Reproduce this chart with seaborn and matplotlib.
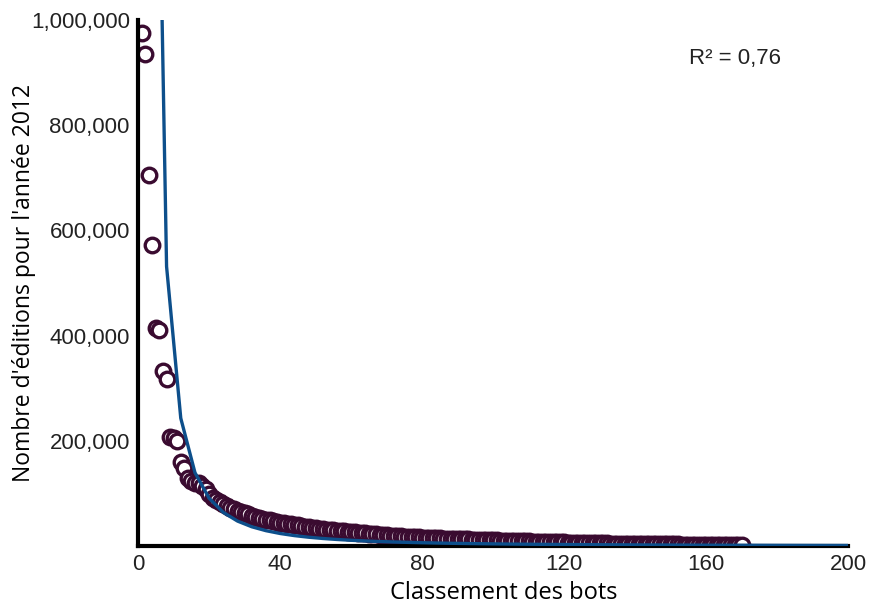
import numpy as np
import pandas as pd
import matplotlib
matplotlib.use("Agg")
import matplotlib.pyplot as plt
import seaborn as sns
from matplotlib.ticker import FuncFormatter

# Edits per bot in 2012, ordered by rank (1 = most active bot)
edits = [
    975000, 935000, 705000, 573000, 415000, 410000, 333000, 318000, 208000, 205000,
    199000, 160000, 148000, 130000, 124000, 120000, 119000, 115000, 108000, 99000,
    92000, 88000, 84000, 80000, 76000, 73000, 70000, 67000, 64000, 62000,
    60000, 58000, 56000, 54000, 52000, 50000, 49000, 47000, 46000, 44000,
    43000, 42000, 41000, 40000, 39000, 38000, 37000, 36000, 35000, 34000,
    33000, 32000, 31000, 30500, 30000, 29000, 28500, 28000, 27000, 26500,
    26000, 25000, 24500, 24000, 23000, 22500, 22000, 21000, 20500, 20000,
    19500, 19000, 19000, 18500, 18000, 17500, 17000, 17000, 16500, 16000,
    16000, 15500, 15000, 15000, 14500, 14000, 14000, 13500, 13500, 13000,
    13000, 12500, 12500, 12000, 12000, 11500, 11500, 11000, 11000, 10500,
    10500, 10000, 10000, 9800, 9600, 9400, 9200, 9000, 8800, 8600,
    8400, 8200, 8000, 7800, 7600, 7400, 7200, 7000, 6900, 6800,
    6600, 6400, 6200, 6000, 5900, 5800, 5600, 5400, 5200, 5000,
    4900, 4800, 4700, 4600, 4500, 4400, 4300, 4200, 4100, 4000,
    3900, 3800, 3700, 3600, 3500, 3400, 3300, 3200, 3100, 3000,
    2950, 2900, 2850, 2800, 2700, 2600, 2500, 2400, 2300, 2200,
    2100, 2000, 1900, 1800, 1700, 1600, 1500, 1400, 1300, 1200,
]
ranks = list(range(1, len(edits) + 1))

# Power-law trend y = A * x^-B, evaluated every 4 ranks
FIT_A = 2.94e7
FIT_B = 1.93
fit_x = np.arange(4, 201, 4)
fit_y = FIT_A * fit_x ** (-FIT_B)
r2_label = "R² = 0,76"

x_ticks = [0, 40, 80, 120, 160, 200]
y_ticks = [0, 200000, 400000, 600000, 800000, 1000000]

pts = pd.DataFrame({"rang": ranks, "editions": edits})
trend = pd.DataFrame({"rang": fit_x, "editions": fit_y})

sns.set_style("white")
plt.rcParams["font.family"] = ["Liberation Sans", "DejaVu Sans"]

fig = plt.figure(figsize=(8.69, 6.04), dpi=100)
ax = fig.add_axes([0.159, 0.096, 0.817, 0.871])

sns.scatterplot(data=pts, x="rang", y="editions", ax=ax, marker="o", s=110,
                facecolor="white", edgecolor="#3a0b30", linewidth=2.4, zorder=2)
sns.lineplot(data=trend, x="rang", y="editions", ax=ax, color="#0d4f8b",
             linewidth=2.4, zorder=3)

ax.set_xlim(0, 200)
ax.set_ylim(0, 1000000)
ax.set_xticks(x_ticks)
ax.set_yticks(y_ticks)
ax.yaxis.set_major_formatter(FuncFormatter(lambda v, p: "" if v == 0 else f"{int(v):,}"))
ax.tick_params(axis="both", labelsize=16, labelcolor="#222222", color="black",
               length=4, width=2, direction="out", pad=2)

for side in ("top", "right"):
    ax.spines[side].set_visible(False)
for side in ("left", "bottom"):
    ax.spines[side].set_linewidth(3)
    ax.spines[side].set_color("black")

label_font = ["Open Sans", "DejaVu Sans"]
ax.set_xlabel("Classement des bots", fontsize=17, family=label_font, color="black")
ax.xaxis.set_label_coords(0.515, -0.066)
ax.set_ylabel("Nombre d'éditions pour l'année 2012", fontsize=16.5,
              family=label_font, color="black")
ax.yaxis.set_label_coords(-0.144, 0.5)

ax.text(0.84, 0.927, r2_label, transform=ax.transAxes, fontsize=16, color="#222222",
        ha="center", va="center")

fig.savefig("out.png", dpi=100, facecolor="white")
